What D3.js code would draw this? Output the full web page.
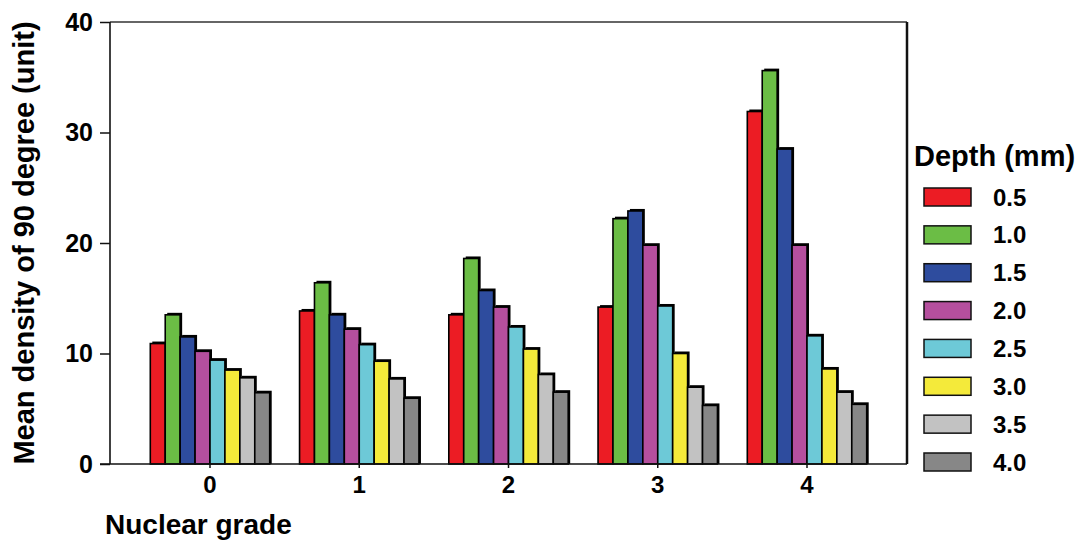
<!DOCTYPE html>
<html>
<head>
<meta charset="utf-8">
<script src="https://cdn.jsdelivr.net/npm/d3@7"></script>
<style>
  html, body { margin: 0; padding: 0; background: #fff; }
  svg { display: block; font-family: "Liberation Sans", Arial, sans-serif; }
</style>
</head>
<body>
<svg id="chart" width="1087" height="553"></svg>
<script>
// ---- data ----
const grades = ["0", "1", "2", "3", "4"];
const depths = ["0.5", "1.0", "1.5", "2.0", "2.5", "3.0", "3.5", "4.0"];
const depth05 = [10.9, 13.85, 13.5, 14.2, 31.9];
const depth10 = [13.5, 16.4, 18.6, 22.2, 35.6];
const depth15 = [11.5, 13.5, 15.7, 22.9, 28.5];
const depth20 = [10.2, 12.2, 14.2, 19.8, 19.8];
const depth25 = [9.4, 10.8, 12.4, 14.3, 11.6];
const depth30 = [8.5, 9.3, 10.4, 10.0, 8.6];
const depth35 = [7.8, 7.7, 8.1, 6.95, 6.5];
const depth40 = [6.45, 5.95, 6.5, 5.3, 5.4];
const yTicks = [0, 10, 20, 30, 40];
const colors = ["#ec1c24", "#6bbd45", "#2e4c9e", "#b54f9e", "#6dc9d7", "#f4ea3a", "#c2c2c2", "#878787"];

const seriesValues = [depth05, depth10, depth15, depth20, depth25, depth30, depth35, depth40];

// ---- layout ----
const svg = d3.select("#chart");
const pLeft = 110, pRight = 907, pTop = 22, pBottom = 464;

const x0 = d3.scaleBand().domain(grades).range([pLeft, pRight]).paddingInner(0.2).paddingOuter(0.27);
const x1 = d3.scaleBand().domain(depths).range([0, x0.bandwidth()]).padding(0);
const y = d3.scaleLinear().domain([0, 40]).range([pBottom, pTop]);

// frame (top and right)
svg.append("line").attr("x1", pLeft).attr("x2", pRight).attr("y1", pTop).attr("y2", pTop)
  .attr("stroke", "#333").attr("stroke-width", 1.5);
svg.append("line").attr("x1", pRight).attr("x2", pRight).attr("y1", pTop).attr("y2", pBottom)
  .attr("stroke", "#111").attr("stroke-width", 2.5);

// bars
const groups = svg.append("g").selectAll("g")
  .data(grades).join("g")
  .attr("transform", d => `translate(${x0(d)},0)`);

groups.each(function(g, gi) {
  const sel = d3.select(this);
  depths.forEach((dep, si) => {
    const v = seriesValues[si][gi];
    const bx = x1(dep), by = y(v), bw = x1.bandwidth(), bh = y(0) - y(v);
    sel.append("rect").attr("x", bx + 2).attr("y", by - 2).attr("width", bw).attr("height", bh + 2)
      .attr("fill", "#000");
    sel.append("rect").attr("x", bx).attr("y", by).attr("width", bw).attr("height", bh)
      .attr("fill", colors[si]).attr("stroke", "#000").attr("stroke-width", 1.6);
  });
});

// y axis
const yAxis = svg.append("g").attr("transform", `translate(${pLeft},0)`)
  .call(d3.axisLeft(y).tickValues(yTicks).tickSize(10).tickPadding(7).tickFormat(d3.format("d")));
yAxis.select(".domain").attr("stroke", "#111").attr("stroke-width", 1.6).attr("d", `M0,${pTop}V${pBottom}`);
yAxis.selectAll(".tick line").attr("stroke", "#111").attr("stroke-width", 1.5);
yAxis.selectAll(".tick text").attr("font-size", 25).attr("font-weight", "bold").attr("fill", "#000")
  .attr("font-family", "Liberation Sans, Arial, sans-serif");

// x axis
const xAxis = svg.append("g").attr("transform", `translate(0,${pBottom})`)
  .call(d3.axisBottom(x0).tickSize(4).tickPadding(8));
xAxis.select(".domain").attr("stroke", "#111").attr("stroke-width", 1.6).attr("d", `M${pLeft - 10},0H${pRight}`);
xAxis.selectAll(".tick line").attr("stroke", "#111").attr("stroke-width", 1.5);
xAxis.selectAll(".tick text").attr("font-size", 24).attr("font-weight", "bold").attr("fill", "#000")
  .attr("font-family", "Liberation Sans, Arial, sans-serif");

// axis titles
svg.append("text").attr("x", 105).attr("y", 534).attr("font-size", 28).attr("font-weight", "bold")
  .attr("fill", "#000").text("Nuclear grade");
svg.append("text").attr("transform", `translate(34,${(pTop + pBottom) / 2}) rotate(-90)`)
  .attr("text-anchor", "middle").attr("font-size", 29).attr("font-weight", "bold")
  .attr("fill", "#000").text("Mean density of 90 degree (unit)");

// legend
const legend = svg.append("g");
legend.append("text").attr("x", 914).attr("y", 166).attr("font-size", 29).attr("font-weight", "bold")
  .attr("fill", "#000").text("Depth (mm)");
const ly = d3.scalePoint().domain(depths).range([197, 462]);
const items = legend.selectAll("g.item").data(depths).join("g").attr("class", "item")
  .attr("transform", d => `translate(0,${ly(d)})`);
items.append("rect").attr("x", 924).attr("y", -9).attr("width", 47).attr("height", 18)
  .attr("fill", (d, i) => colors[i]).attr("stroke", "#111").attr("stroke-width", 1.5);
items.append("text").attr("x", 993).attr("y", 8.5).attr("font-size", 24).attr("font-weight", "bold")
  .attr("fill", "#000").text(d => d);
</script>
</body>
</html>
